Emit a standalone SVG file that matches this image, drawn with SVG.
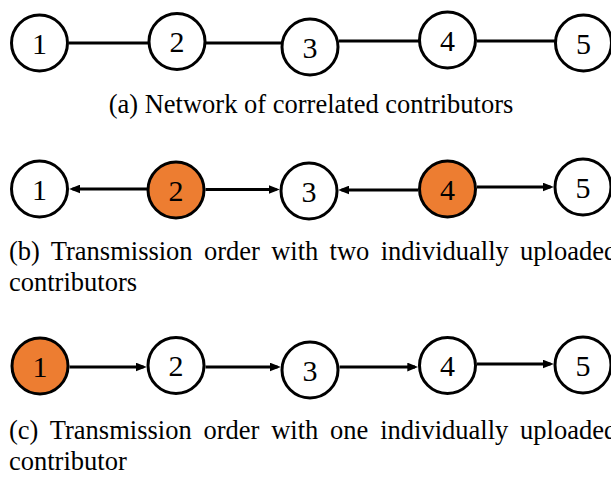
<svg xmlns="http://www.w3.org/2000/svg" width="611" height="477" viewBox="0 0 611 477">
  <style>
    .node circle { fill: #ffffff; stroke: #000000; stroke-width: 3; }
    .node.up circle { fill: #ED7D31; }
    .node text { font-family: "Liberation Serif", "Times New Roman", serif; font-size: 30px; text-anchor: middle; fill: #000000; }
    .edge { stroke: #000000; stroke-width: 2.8; fill: none; }
    .arrow { marker-end: url(#head); }
    .caption { font-family: "Liberation Serif", "Times New Roman", serif; font-size: 26.5px; fill: #000000; }
  </style>
  <defs>
    <marker id="head" markerUnits="userSpaceOnUse" markerWidth="11" markerHeight="9" refX="7" refY="4" orient="auto" viewBox="0 0 10 8">
      <path d="M0,0 L10,4 L0,8 z" fill="#000000"/>
    </marker>
  </defs>

  <!-- (a) undirected correlation network -->
  <g id="connectors-a">
    <line class="edge" x1="69" y1="43" x2="148" y2="43"/>
    <line class="edge" x1="206" y1="43" x2="281" y2="43"/>
    <line class="edge" x1="339" y1="41" x2="419" y2="41"/>
    <line class="edge" x1="477" y1="41" x2="555" y2="41"/>
  </g>
  <g id="a-n1" class="node"><circle cx="39.5" cy="43" r="28"/><text x="39.5" y="53.5">1</text></g>
  <g id="a-n2" class="node"><circle cx="177" cy="41.5" r="28"/><text x="177" y="52">2</text></g>
  <g id="a-n3" class="node"><circle cx="310" cy="47" r="28"/><text x="310" y="57.5">3</text></g>
  <g id="a-n4" class="node"><circle cx="447.5" cy="40" r="28"/><text x="447.5" y="50.5">4</text></g>
  <g id="a-n5" class="node"><circle cx="583.5" cy="43" r="28"/><text x="583.5" y="53.5">5</text></g>
  <text class="caption" x="311" y="113" text-anchor="middle">(a) Network of correlated contributors</text>

  <!-- (b) two individually uploaded contributors -->
  <g id="connectors-b">
    <line class="edge arrow" x1="147" y1="189" x2="72.5" y2="189"/>
    <line class="edge arrow" x1="205.5" y1="189.5" x2="276.5" y2="189.5"/>
    <line class="edge arrow" x1="418" y1="190" x2="341.5" y2="190"/>
    <line class="edge arrow" x1="477" y1="187" x2="550.5" y2="187"/>
  </g>
  <g id="b-n1" class="node"><circle cx="39.5" cy="189" r="28"/><text x="39.5" y="199.5">1</text></g>
  <g id="b-n2" class="node up"><circle cx="176" cy="190" r="28"/><text x="176" y="200.5">2</text></g>
  <g id="b-n3" class="node"><circle cx="309" cy="191" r="28"/><text x="309" y="201.5">3</text></g>
  <g id="b-n4" class="node up"><circle cx="447.5" cy="189" r="28"/><text x="447.5" y="199.5">4</text></g>
  <g id="b-n5" class="node"><circle cx="583" cy="187" r="28"/><text x="583" y="197.5">5</text></g>
  <text class="caption" x="9" y="260" word-spacing="4.7">(b) Transmission order with two individually uploaded</text>
  <text class="caption" x="9" y="291">contributors</text>

  <!-- (c) one individually uploaded contributor -->
  <g id="connectors-c">
    <line class="edge arrow" x1="69.5" y1="367" x2="143.5" y2="367"/>
    <line class="edge arrow" x1="205.5" y1="367" x2="277.5" y2="367"/>
    <line class="edge arrow" x1="339.5" y1="367" x2="415" y2="367"/>
    <line class="edge arrow" x1="477" y1="364" x2="550.5" y2="364"/>
  </g>
  <g id="c-n1" class="node up"><circle cx="40" cy="366" r="28"/><text x="40" y="376.5">1</text></g>
  <g id="c-n2" class="node"><circle cx="176" cy="365.5" r="28"/><text x="176" y="376">2</text></g>
  <g id="c-n3" class="node"><circle cx="310" cy="370" r="28"/><text x="310" y="380.5">3</text></g>
  <g id="c-n4" class="node"><circle cx="447.5" cy="365.5" r="28"/><text x="447.5" y="376">4</text></g>
  <g id="c-n5" class="node"><circle cx="583" cy="365" r="28"/><text x="583" y="375.5">5</text></g>
  <text class="caption" x="9" y="439" word-spacing="5.2">(c) Transmission order with one individually uploaded</text>
  <text class="caption" x="9" y="470">contributor</text>
</svg>
